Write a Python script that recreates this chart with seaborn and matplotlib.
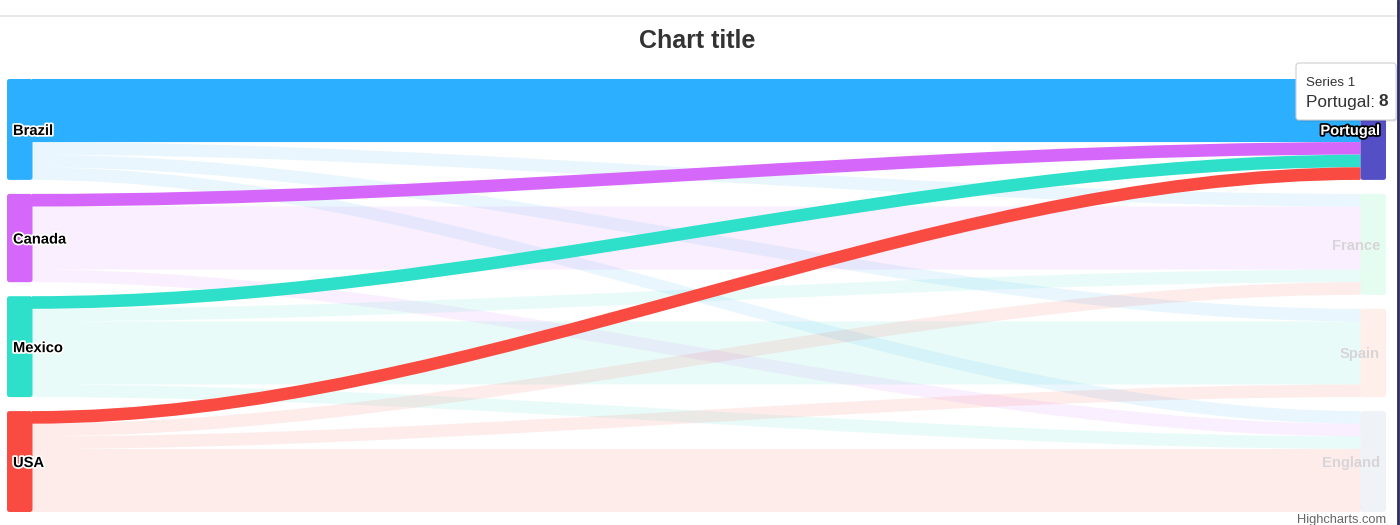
import matplotlib
matplotlib.use('Agg')
import matplotlib.pyplot as plt
import matplotlib.patheffects as pe
from matplotlib.path import Path
from matplotlib.patches import PathPatch, FancyBboxPatch
import seaborn as sns

# ---------------- data ----------------
sources = ['Brazil', 'Brazil', 'Brazil', 'Brazil',
           'Canada', 'Canada', 'Canada',
           'Mexico', 'Mexico', 'Mexico', 'Mexico',
           'USA', 'USA', 'USA', 'USA']
targets = ['Portugal', 'France', 'Spain', 'England',
           'Portugal', 'France', 'England',
           'Portugal', 'France', 'Spain', 'England',
           'Portugal', 'France', 'Spain', 'England']
weights = [5, 1, 1, 1,
           1, 5, 1,
           1, 1, 5, 1,
           1, 1, 1, 5]

left_nodes = ['Brazil', 'Canada', 'Mexico', 'USA']
right_nodes = ['Portugal', 'France', 'Spain', 'England']

# highcharts default colours, assigned in node creation order
node_order = ['Brazil', 'Portugal', 'France', 'Spain', 'England', 'Canada', 'Mexico', 'USA']
hc_colors = ['#2caffe', '#544fc5', '#00e272', '#fe6a35', '#6b8abc', '#d568fb', '#2ee0ca', '#fa4b42']

hovered = 'Portugal'
chart_title = 'Chart title'
series_name = 'Series 1'
credit = 'Highcharts.com'

# ---------------- theme ----------------
sns.set_theme(style='white')
plt.rcParams['font.family'] = ['Liberation Sans', 'DejaVu Sans']
palette = sns.color_palette(hc_colors)
node_colors = dict(zip(node_order, palette))

W, H = 1400, 525
fig = plt.figure(figsize=(14, 5.25), dpi=100)
ax = fig.add_axes([0, 0, 1, 1])
ax.set_xlim(0, W)
ax.set_ylim(H, 0)
ax.axis('off')

# ---------------- layout ----------------
top, bottom = 79, 512
pad = 14
node_w = 25.5
col_x = {0: 7, 1: 1360.5}
curve_factor = 0.33

tot_in = {n: 0 for n in node_order}
tot_out = {n: 0 for n in node_order}
for s, t, w in zip(sources, targets, weights):
    tot_out[s] += w
    tot_in[t] += w
node_total = {n: max(tot_in[n], tot_out[n]) for n in node_order}

cols = [left_nodes, right_nodes]
max_sum = max(sum(node_total[n] for n in c) for c in cols)
max_len = max(len(c) for c in cols)
k = (bottom - top - pad * (max_len - 1)) / max_sum

node_y, node_x = {}, {}
for ci, col in enumerate(cols):
    y = top
    for n in col:
        node_y[n] = y
        node_x[n] = col_x[ci]
        y += node_total[n] * k + pad

active_nodes = {hovered}
for s, t in zip(sources, targets):
    if s == hovered:
        active_nodes.add(t)
    if t == hovered:
        active_nodes.add(s)

# ---------------- links ----------------
out_off = {n: 0.0 for n in node_order}
in_off = {n: 0.0 for n in node_order}
links = []
for s, t, w in zip(sources, targets, weights):
    h = w * k
    y0 = node_y[s] + out_off[s]
    y1 = node_y[t] + in_off[t]
    out_off[s] += h
    in_off[t] += h
    x0 = node_x[s] + node_w - 0.5
    x1 = node_x[t]
    c = (x1 - x0) * curve_factor
    verts = [(x0, y0), (x0 + c, y0), (x1 - c, y1), (x1, y1),
             (x1, y1 + h), (x1 - c, y1 + h), (x0 + c, y0 + h), (x0, y0 + h),
             (x0, y0)]
    codes = [Path.MOVETO, Path.CURVE4, Path.CURVE4, Path.CURVE4,
             Path.LINETO, Path.CURVE4, Path.CURVE4, Path.CURVE4,
             Path.CLOSEPOLY]
    active = (s == hovered) or (t == hovered)
    links.append((active, Path(verts, codes), node_colors[s]))

for active, path, col in sorted(links, key=lambda l: l[0]):
    ax.add_patch(PathPatch(path, facecolor=col, edgecolor='none',
                           alpha=1.0 if active else 0.1, zorder=3 if active else 2))

# ---------------- nodes ----------------
for n in left_nodes + right_nodes:
    a = 1.0 if n in active_nodes else 0.1
    ax.add_patch(FancyBboxPatch((node_x[n], node_y[n]), node_w, node_total[n] * k,
                                boxstyle='round,pad=0,rounding_size=2.5',
                                facecolor=node_colors[n], edgecolor='none',
                                alpha=a, zorder=4))

# ---------------- labels ----------------
for n in left_nodes:
    ax.text(node_x[n] + 6, node_y[n] + node_total[n] * k / 2 + 1.5, n,
            ha='left', va='center', fontsize=10.6, fontweight='bold', color='black', zorder=6,
            path_effects=[pe.withStroke(linewidth=2.5, foreground='white')])
for n in right_nodes:
    if n == hovered:
        kw = dict(color='white', path_effects=[pe.withStroke(linewidth=2.5, foreground='black')])
    else:
        kw = dict(color='#d8d5d9')
    ax.text(node_x[n] + node_w - 6, node_y[n] + node_total[n] * k / 2 + 1.5, n,
            ha='right', va='center', fontsize=10.6, fontweight='bold', zorder=6, **kw)

# ---------------- title, frame, credits ----------------
ax.text(W / 2 - 3, 41, chart_title, ha='center', va='center',
        fontsize=18, fontweight='bold', color='#333333')
ax.plot([0, 1396], [15.5, 15.5], color='#e4e4ea', lw=1.2, zorder=1)
ax.plot([1397.5, 1397.5], [0, H], color='#2d2a66', lw=2, zorder=10)
ax.text(1386, 520, credit, ha='right', va='center', fontsize=9.3, color='#666666')

# ---------------- tooltip ----------------
tx, ty, tw, th = 1296, 63, 100, 57
ax.add_patch(FancyBboxPatch((tx + 1.5, ty + 1.5), tw, th,
                            boxstyle='round,pad=0,rounding_size=3',
                            facecolor='black', edgecolor='none', alpha=0.12, zorder=8))
ax.add_patch(FancyBboxPatch((tx, ty), tw, th,
                            boxstyle='round,pad=0,rounding_size=3',
                            facecolor='white', edgecolor='#d0d0d0', lw=0.8, zorder=9))
ax.text(tx + 10, ty + 20, series_name, ha='left', va='center',
        fontsize=9.6, color='#333333', zorder=10)
lbl = ax.text(tx + 10, ty + 39, f'{hovered}: ', ha='left', va='center',
              fontsize=12.4, color='#333333', zorder=10)
fig.canvas.draw()
bb = lbl.get_window_extent()
x_end = ax.transData.inverted().transform((bb.x1, bb.y0))[0]
ax.text(x_end - 1, ty + 39, f'{tot_in[hovered]}', ha='left', va='center',
        fontsize=12.4, fontweight='bold', color='#333333', zorder=10)

fig.savefig('out.png', dpi=100)
